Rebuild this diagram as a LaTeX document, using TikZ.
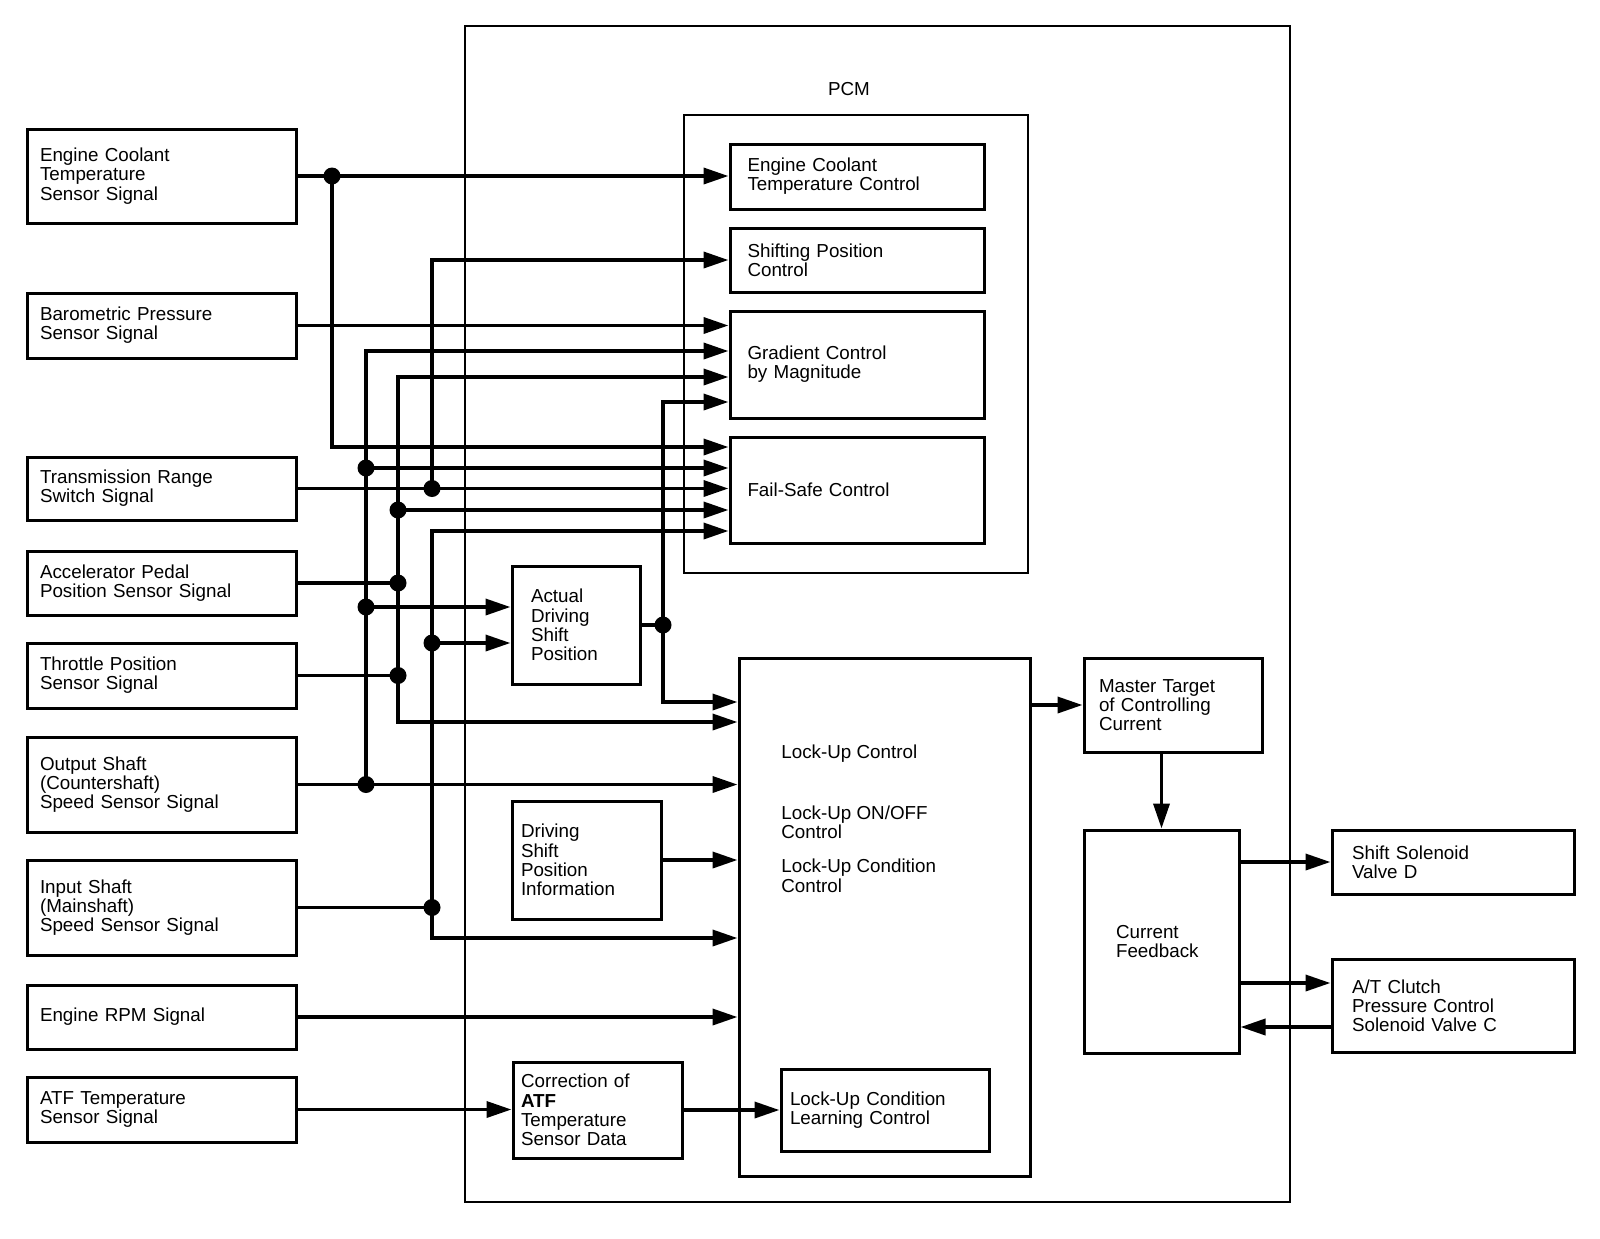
\documentclass[tikz,border=0pt]{standalone}
\usepackage{fontspec}
\setmainfont{Liberation Sans}
\usetikzlibrary{arrows.meta}
\newcommand{\blkfont}{\fontsize{9.4}{9.6}\selectfont}

\begin{document}
\begin{tikzpicture}[x=0.5pt,y=-0.5pt,>={Triangle[length=12.5pt,width=8pt]}]
    \tikzstyle{blk}=[rectangle,draw,line width=1.5pt,align=left,font=\blkfont,inner ysep=1pt]
    \tikzstyle{insig}=[blk,text width=121.5pt,inner xsep=6.5pt]
    \tikzstyle{ctl}=[blk,text width=109.5pt,inner xsep=8.75pt]
    \tikzstyle{outbox}=[blk,text width=101pt,inner xsep=10pt]
    \tikzstyle{wire}=[line width=1.8pt]
    \path[fill=white] (0,0) rectangle (1600,1238);
    \useasboundingbox (0,0) rectangle (1600,1238);

    \node[draw,line width=1pt,minimum width=412.5pt,minimum height=588pt] (pcm) at (877.5,614) {};
    \node[font=\blkfont,anchor=base] (pcmlbl) at (849,95) {PCM};
    \node[draw,line width=1.25pt,minimum width=172pt,minimum height=229pt] (ctlgrp) at (856,344) {};

    \node[insig,minimum height=47pt] (ects) at (161.5,176) {Engine Coolant\\Temperature\\Sensor Signal};
    \node[insig,minimum height=32.5pt] (baro) at (161.5,325.5) {Barometric Pressure\\Sensor Signal};
    \node[insig,minimum height=31.5pt] (trs) at (161.5,488.5) {Transmission Range\\Switch Signal};
    \node[insig,minimum height=32pt] (apps) at (161.5,583) {Accelerator Pedal\\Position Sensor Signal};
    \node[insig,minimum height=32.5pt] (tps) at (161.5,675.5) {Throttle Position\\Sensor Signal};
    \node[insig,minimum height=47.5pt] (oss) at (161.5,784.5) {Output Shaft\\(Countershaft)\\Speed Sensor Signal};
    \node[insig,minimum height=47.5pt] (iss) at (161.5,907.5) {Input Shaft\\(Mainshaft)\\Speed Sensor Signal};
    \node[insig,minimum height=32pt] (rpm) at (161.5,1017) {Engine RPM Signal};
    \node[insig,minimum height=32.5pt] (atfs) at (161.5,1109.5) {ATF Temperature\\Sensor Signal};

    \node[ctl,minimum height=32.5pt] (ectc) at (857,176.5) {Engine Coolant\\Temperature Control};
    \node[ctl,minimum height=32pt] (spc) at (857,260) {Shifting Position\\Control};
    \node[ctl,minimum height=53.5pt] (grad) at (857,364.5) {Gradient Control\\by Magnitude};
    \node[ctl,minimum height=53pt] (fsc) at (857,490) {Fail-Safe Control};

    \node[blk,text width=45pt,inner xsep=9.5pt,minimum height=59pt] (adsp) at (576,625) {Actual\\Driving\\Shift\\Position};
    \node[blk,text width=65.5pt,inner xsep=4.5pt,minimum height=59pt] (dspi) at (586.5,860) {Driving\\Shift\\Position\\Information};
    \node[blk,text width=76.5pt,inner xsep=4pt,minimum height=48pt] (corr) at (597.5,1110) {Correction of\\\textbf{ATF}\\Temperature\\Sensor Data};

    \node[blk,minimum width=145.5pt,minimum height=259pt] (luc) at (884.5,917) {};
    \node[font=\blkfont,align=left,anchor=base west,inner sep=0pt] (luctxt) at (781,892) {Lock-Up Control\\[21pt]Lock-Up ON/OFF\\Control\\[7.5pt]Lock-Up Condition\\Control};
    \node[blk,text width=95pt,inner xsep=4.5pt,minimum height=41pt] (lucl) at (885,1110) {Lock-Up Condition\\Learning Control};

    \node[blk,text width=74pt,inner xsep=7.5pt,minimum height=47pt] (mtc) at (1173,705) {Master Target\\of Controlling\\Current};
    \node[blk,text width=45.5pt,inner xsep=16pt,minimum height=111.5pt] (cfb) at (1161.5,941.5) {Current\\Feedback};
    \node[outbox,minimum height=32pt] (ssd) at (1453,862) {Shift Solenoid\\Valve D};
    \node[outbox,minimum height=46.5pt] (atc) at (1453,1005.5) {A/T Clutch\\Pressure Control\\Solenoid Valve C};

    \coordinate (ject) at (ects.east -| 332,0);
    \coordinate (jtrs) at (trs.east -| 432,0);
    \coordinate (joss) at (oss.east -| 366,0);
    \coordinate (jos1) at (366,468);
    \coordinate (jos2) at (366,607);
    \coordinate (japp) at (apps.east -| 398,0);
    \coordinate (japp1) at (398,510);
    \coordinate (jtps) at (tps.east -| 398,0);
    \coordinate (jiss) at (iss.east -| 432,0);
    \coordinate (jis1) at (432,643);
    \coordinate (jads) at (adsp.east -| 663,0);

    \draw[wire,->] (ects.east) -- (ects.east -| ectc.west);
    \draw[wire,->] (ject) |- (fsc.west |- 0,447);
    \draw[wire,->] (trs.east) -- (trs.east -| fsc.west);
    \draw[wire,->] (jtrs) |- (spc.west);
    \draw[wire,->] (baro.east) -- (baro.east -| grad.west);
    \draw[wire,->] (oss.east) -- (oss.east -| luc.west);
    \draw[wire,->] (joss) |- (grad.west |- 0,351);
    \draw[wire,->] (jos1) -- (jos1 -| fsc.west);
    \draw[wire,->] (jos2) -- (jos2 -| adsp.west);
    \draw[wire] (apps.east) -- (japp);
    \draw[wire] (tps.east) -- (jtps);
    \draw[wire,->] (japp) |- (grad.west |- 0,377);
    \draw[wire,->] (japp) |- (luc.west |- 0,722);
    \draw[wire,->] (japp1) -- (japp1 -| fsc.west);
    \draw[wire] (iss.east) -- (jiss);
    \draw[wire,->] (jiss) |- (fsc.west |- 0,531);
    \draw[wire,->] (jiss) |- (luc.west |- 0,938);
    \draw[wire,->] (jis1) -- (jis1 -| adsp.west);
    \draw[wire] (adsp.east) -- (jads);
    \draw[wire,->] (jads) |- (grad.west |- 0,402);
    \draw[wire,->] (jads) |- (luc.west |- 0,702);
    \draw[wire,->] (dspi.east) -- (dspi.east -| luc.west);
    \draw[wire,->] (rpm.east) -- (rpm.east -| luc.west);
    \draw[wire,->] (atfs.east) -- (atfs.east -| corr.west);
    \draw[wire,->] (corr.east) -- (corr.east -| lucl.west);
    \draw[wire,->] (luc.east |- mtc.west) -- (mtc.west);
    \draw[wire,->] (cfb.north |- mtc.south) -- (cfb.north);
    \draw[wire,->] (cfb.east |- ssd.west) -- (ssd.west);
    \draw[wire,->] (cfb.east |- 0,983) -- (atc.west |- 0,983);
    \draw[wire,->] (atc.west |- 0,1027) -- (cfb.east |- 0,1027);

    \fill (ject) circle (4.25pt);
    \fill (jtrs) circle (4.25pt);
    \fill (joss) circle (4.25pt);
    \fill (jos1) circle (4.25pt);
    \fill (jos2) circle (4.25pt);
    \fill (japp) circle (4.25pt);
    \fill (japp1) circle (4.25pt);
    \fill (jtps) circle (4.25pt);
    \fill (jiss) circle (4.25pt);
    \fill (jis1) circle (4.25pt);
    \fill (jads) circle (4.25pt);
\end{tikzpicture}
\end{document}
